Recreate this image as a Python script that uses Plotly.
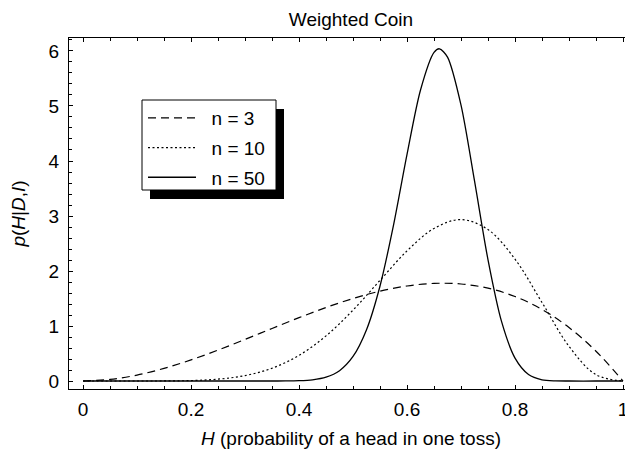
import plotly.graph_objects as go

# values
h_n3 = [0, 0.05, 0.1, 0.15, 0.2, 0.25, 0.3, 0.35, 0.4, 0.45, 0.5,
        0.55, 0.6, 0.65, 0.7, 0.75, 0.8, 0.85, 0.9, 0.95, 1]
p_n3 = [0, 0.029, 0.108, 0.230, 0.384, 0.563, 0.756, 0.956, 1.152, 1.337, 1.500,
        1.634, 1.728, 1.775, 1.764, 1.688, 1.536, 1.301, 0.972, 0.542, 0]

h_n10 = h_n3
p_n10 = [0, 0, 0.0001, 0.0014, 0.0087, 0.034, 0.099, 0.233, 0.467, 0.821, 1.289,
         1.831, 2.365, 2.774, 2.935, 2.753, 2.215, 1.428, 0.631, 0.115, 0]

h_n50 = [0, 0.3, 0.35, 0.375, 0.4, 0.425, 0.45, 0.475, 0.5, 0.525, 0.55, 0.575,
         0.6, 0.625, 0.65, 0.66, 0.675, 0.7, 0.725, 0.75, 0.775, 0.8, 0.825,
         0.85, 0.875, 0.9, 0.95, 1]
p_n50 = [0, 0, 0.0003, 0.0015, 0.0063, 0.0225, 0.070, 0.188, 0.446, 0.933, 1.728, 2.835,
         4.121, 5.291, 5.974, 6.04, 5.888, 5.015, 3.637, 2.203, 1.084, 0.417, 0.119,
         0.023, 0.0027, 0.0002, 0, 0]

x_ticks = [0, 0.2, 0.4, 0.6, 0.8, 1]
x_labels = ["0", "0.2", "0.4", "0.6", "0.8", "1"]
y_ticks = [0, 1, 2, 3, 4, 5, 6]
names = ["\u00a0\u00a0n = 3", "\u00a0\u00a0n = 10", "\u00a0\u00a0n = 50"]

FONT = "Liberation Sans, Arial, Helvetica, sans-serif"
FS = 19

fig = go.Figure()
fig.add_trace(go.Scatter(x=h_n3, y=p_n3, mode="lines", name=names[0], legendgroup="a",
                         line=dict(color="black", width=1.2, dash="8px,5px", shape="spline")))
fig.add_trace(go.Scatter(x=h_n10, y=p_n10, mode="lines", name=names[1], legendgroup="b",
                         line=dict(color="black", width=1.2, dash="2px,2.5px", shape="spline")))
fig.add_trace(go.Scatter(x=h_n50, y=p_n50, mode="lines", name=names[2], legendgroup="c",
                         line=dict(color="black", width=1.3, shape="spline", smoothing=0.8)))

# page body adds an 8px offset, so the figure is 8px smaller than the window
OFF = 8
W, H = 633 - OFF, 452 - OFF
ml, mr, mt, mb = 69 - OFF, 0, 38 - OFF, 452 - 389
pw, ph = W - ml - mr, H - mt - mb

def px_x(x):
    return (x - OFF - ml) / pw

def px_y(y):
    return (H - mb - (y - OFF)) / ph

# legend frame (screen pixels) with its drop shadow
lx0, ly0, lx1, ly1 = 142, 100, 276, 190
fig.add_shape(type="rect", xref="paper", yref="paper",
              x0=px_x(lx0 + 8), x1=px_x(lx1 + 8), y0=px_y(ly1 + 9), y1=px_y(ly0 + 9),
              fillcolor="black", line=dict(width=0), layer="above")
fig.add_shape(type="rect", xref="paper", yref="paper",
              x0=px_x(lx0), x1=px_x(lx1), y0=px_y(ly1), y1=px_y(ly0),
              fillcolor="white", line=dict(color="black", width=1), layer="above")

fig.update_layout(
    width=W, height=H,
    margin=dict(l=ml, r=mr, t=mt, b=mb),
    paper_bgcolor="white", plot_bgcolor="white",
    font=dict(family=FONT, size=FS, color="black"),
    title=dict(text="Weighted Coin", x=0.5, xref="paper", xanchor="center",
               y=0.99, yanchor="top", font=dict(size=FS)),
    showlegend=True,
    legend=dict(x=px_x(lx0 + 1), y=px_y(ly0 - 1), xanchor="left", yanchor="top",
                bgcolor="rgba(0,0,0,0)", borderwidth=0,
                font=dict(size=FS), tracegroupgap=2, itemwidth=48),
)
fig.update_xaxes(range=[-0.026, 1.0185], tickvals=x_ticks, ticktext=x_labels,
                 ticks="inside", ticklen=4, tickwidth=1, tickcolor="black",
                 minor=dict(dtick=0.05, ticks="inside", ticklen=2.5, tickcolor="black"),
                 showline=True, linecolor="black", linewidth=1.3, mirror="ticks",
                 showgrid=False, zeroline=False, ticklabelstandoff=3,
                 title=dict(text="<i>H</i> (probability of a head in one toss)",
                            font=dict(size=FS), standoff=12))
fig.update_yaxes(range=[-0.145, 6.236], tickvals=y_ticks,
                 ticks="inside", ticklen=4, tickwidth=1, tickcolor="black",
                 minor=dict(dtick=0.2, ticks="inside", ticklen=2.5, tickcolor="black"),
                 showline=True, linecolor="black", linewidth=1.3, mirror=False,
                 showgrid=False, zeroline=False, ticklabelstandoff=5,
                 title=dict(text="<i>p</i>(<i>H</i>|<i>D</i>,<i>I</i>)",
                            font=dict(size=FS), standoff=17))

fig.write_html("out.html")
